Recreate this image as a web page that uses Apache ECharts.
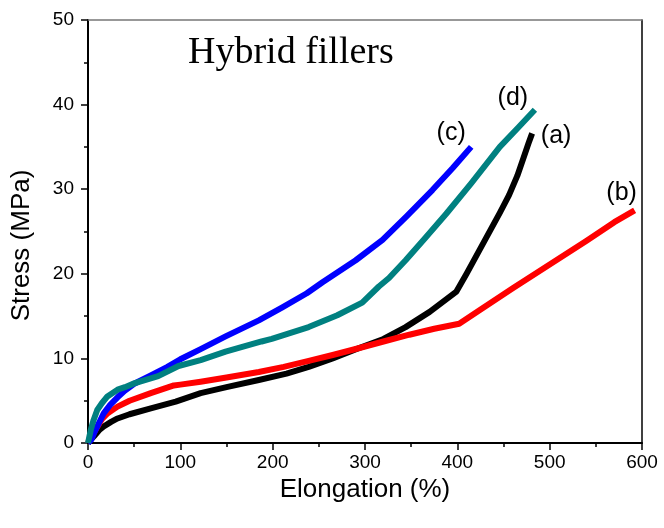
<!DOCTYPE html>
<html>
<head>
<meta charset="utf-8">
<script src="https://cdn.jsdelivr.net/npm/echarts@6/dist/echarts.min.js"></script>
<style>html,body{margin:0;padding:0;background:#fff;}#c{width:664px;height:528px;}</style>
</head>
<body>
<div id="c"></div>
<script>
// Elongation (%) / Stress (MPa) pairs
const curveA = [[0,0],[3,0.4],[6.5,0.8],[12,1.5],[17,1.95],[25,2.5],[32,2.9],[45,3.4],[68,4.1],[95,4.9],[122,5.9],[150,6.6],[185,7.45],[215,8.2],[239,9.0],[265,10.0],[293,11.2],[320,12.3],[344,13.7],[370,15.5],[399,17.9],[410,20.0],[425,23.0],[446,27.2],[456,29.3],[465,31.6],[472,33.8],[477,35.4],[481,36.6]];
const curveB = [[0,0],[4,0.8],[10,1.9],[15,2.8],[21,3.5],[32,4.3],[45,5.0],[68,5.9],[93,6.8],[100,6.9],[122,7.25],[150,7.75],[185,8.4],[212,9.0],[239,9.7],[265,10.4],[293,11.2],[320,12.0],[348,12.8],[375,13.5],[402,14.1],[424,15.7],[460,18.3],[500,21.1],[540,23.9],[570,26.1],[592,27.5]];
const curveC = [[0,0],[3.6,0.4],[6.5,1.15],[12,2.4],[17,3.5],[24,4.5],[32,5.4],[40,6.2],[50,7.0],[68,8.0],[86,9.0],[100,9.9],[122,11.1],[149,12.6],[185,14.5],[210,16.0],[237,17.7],[254,19.0],[290,21.6],[319,24.0],[345,26.8],[373,29.9],[395,32.5],[415,35.0]];
const curveD = [[0,0],[2.9,1.5],[6,2.7],[10,3.9],[15,4.7],[21,5.5],[32,6.3],[40,6.6],[50,7.05],[76,7.9],[98,9.1],[122,9.8],[149,10.8],[188,12.0],[199,12.3],[239,13.7],[270,15.1],[297,16.6],[315,18.5],[326,19.5],[344,21.6],[365,24.2],[388,27.1],[415,30.7],[446,35.0],[466,37.3],[484,39.4]];
const curveNames = ['(a)','(b)','(c)','(d)'];
const curveColors = ['#000000','#ff0000','#0000ff','#008080'];
const titleText = 'Hybrid fillers';
const xName = 'Elongation (%)';
const yName = 'Stress (MPa)';

const chart = echarts.init(document.getElementById('c'), null, {renderer:'canvas'});
const labelOffsets = [[24,3],[-13,-17],[-20,-14],[-22,-12]];
const curves = [curveA, curveB, curveC, curveD];
const order = [0,1,2,3];
const series = order.map(i => ({
  type:'line', name: curveNames[i], data: curves[i], showSymbol:false, smooth:false,
  lineStyle:{color: curveColors[i], width:6, cap:'butt', join:'round'},
  itemStyle:{color: curveColors[i]},
  animation:false,
  endLabel:{show:true, formatter: curveNames[i], color:'#000', fontSize:25, fontFamily:'Liberation Sans',
    align:'center', verticalAlign:'middle', distance:0, offset: labelOffsets[i]}
}));
const font = 'Liberation Sans';
chart.setOption({
  animation:false,
  title:{text:titleText, left:188, top:34, padding:0, textStyle:{fontFamily:'Liberation Serif', fontSize:38, fontWeight:'normal', color:'#000'}},
  grid:{left:88, right:22, top:20, bottom:85, show:false},
  xAxis:[{type:'value', min:0, max:600, interval:100, position:'bottom',
    name:xName, nameLocation:'middle', nameGap:26, nameTextStyle:{fontFamily:font, fontSize:26, color:'#000'},
    axisLine:{show:true, onZero:false, lineStyle:{color:'#000', width:2}},
    axisTick:{show:true, inside:false, length:7, lineStyle:{color:'#000', width:1.5}},
    minorTick:{show:true, splitNumber:2, length:4, lineStyle:{color:'#000', width:1.5}},
    axisLabel:{fontFamily:font, fontSize:19, color:'#000', margin:10},
    splitLine:{show:false}},
   {type:'value', min:0, max:600, position:'top', axisLine:{show:true, onZero:false, lineStyle:{color:'#777', width:1.5}},
    axisTick:{show:false}, axisLabel:{show:false}, splitLine:{show:false}}],
  yAxis:[{type:'value', min:0, max:50, interval:10, position:'left',
    name:yName, nameLocation:'middle', nameGap:53, nameRotate:90,
    nameTextStyle:{fontFamily:font, fontSize:26, color:'#000', padding:[0,28,0,0]},
    axisLine:{show:true, onZero:false, lineStyle:{color:'#000', width:2}},
    axisTick:{show:true, inside:false, length:7, lineStyle:{color:'#000', width:1.5}},
    minorTick:{show:true, splitNumber:2, length:4, lineStyle:{color:'#000', width:1.5}},
    axisLabel:{fontFamily:font, fontSize:19, color:'#000', margin:14},
    splitLine:{show:false}},
   {type:'value', min:0, max:50, position:'right', axisLine:{show:true, onZero:false, lineStyle:{color:'#000', width:1.5}},
    axisTick:{show:false}, axisLabel:{show:false}, splitLine:{show:false}}],
  series: series
});
</script>
</body>
</html>
